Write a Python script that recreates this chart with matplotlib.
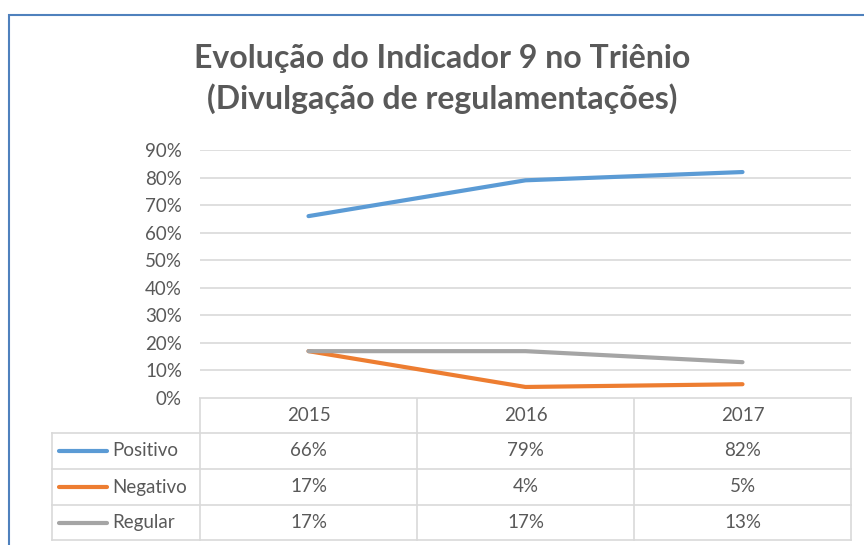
import matplotlib
matplotlib.use("Agg")
import matplotlib.pyplot as plt

plt.rcParams['font.family'] = ['Lato', 'DejaVu Sans']

years = ["2015", "2016", "2017"]
series_names = ["Positivo", "Negativo", "Regular"]
positivo = [0.66, 0.79, 0.82]
negativo = [0.17, 0.04, 0.05]
regular = [0.17, 0.17, 0.13]
series_values = [positivo, negativo, regular]
colors = ["#5B9BD5", "#ED7D31", "#A5A5A5"]
yticks = [0.0, 0.1, 0.2, 0.3, 0.4, 0.5, 0.6, 0.7, 0.8, 0.9]
title = "Evolução do Indicador 9 no Triênio\n(Divulgação de regulamentações)"

W, H = 864, 545
fig = plt.figure(figsize=(W / 100, H / 100), dpi=100)
txt = "#595959"
gridc = "#D9D9D9"
fs = 13.5

# plot area in pixels
px_l, px_r, px_t, px_b = 200, 851, 150, 398
ax = fig.add_axes([px_l / W, 1 - px_b / H, (px_r - px_l) / W, (px_b - px_t) / H])
ax.set_xlim(-0.5, len(years) - 0.5)
ax.set_ylim(0, 0.9)
for v, c in zip(series_values, colors):
    ax.plot(range(len(years)), v, color=c, lw=3.0, solid_capstyle='round', zorder=3)
ax.set_yticks(yticks)
ax.set_yticklabels([f"{t:.0%}" for t in yticks])
ax.yaxis.grid(True, color=gridc, lw=1.2)
ax.set_xticks([])
for s in ax.spines.values():
    s.set_visible(False)
ax.tick_params(axis='y', length=0, pad=13, labelsize=fs, labelcolor=txt)

# overlay axes in pixel coordinates for table and border
ov = fig.add_axes([0, 0, 1, 1], zorder=-1)
ov.set_xlim(0, W)
ov.set_ylim(H, 0)
ov.axis('off')

# chart border
ov.plot([9, 9, W + 5], [H + 5, 15, 15], color="#4F81BD", lw=1.5, solid_joinstyle='miter')

ov.text(442, 79, title, ha='center', va='center', fontsize=23, fontweight='bold',
        color=txt, linespacing=1.4)

# data table
n = len(years)
colw = (px_r - px_l) / n
col_edges = [px_l + i * colw for i in range(n + 1)]
row_edges = [398, 433, 469, 505, 540]
lab_l = 52
ov.plot([px_l, px_r], [row_edges[0]] * 2, color=gridc, lw=1.2)
for y in row_edges[1:]:
    ov.plot([lab_l, px_r], [y, y], color=gridc, lw=1.2)
for x in col_edges:
    ov.plot([x, x], [row_edges[0], row_edges[-1]], color=gridc, lw=1.2)
ov.plot([lab_l, lab_l], [row_edges[1], row_edges[-1]], color=gridc, lw=1.2)

for i, yr in enumerate(years):
    xc = px_l + (i + 0.5) * colw
    ov.text(xc, (row_edges[0] + row_edges[1]) / 2, yr, ha='center', va='center',
            fontsize=fs, color=txt)
for r, (name, vals, c) in enumerate(zip(series_names, series_values, colors)):
    yc = (row_edges[r + 1] + row_edges[r + 2]) / 2
    ov.plot([59, 107], [yc, yc], color=c, lw=3.0, solid_capstyle='round')
    ov.text(112, yc, name, ha='left', va='center', fontsize=fs, color=txt)
    for i, v in enumerate(vals):
        xc = px_l + (i + 0.5) * colw
        ov.text(xc, yc, f"{v:.0%}", ha='center', va='center', fontsize=fs, color=txt)

fig.savefig("out.png", dpi=100)
